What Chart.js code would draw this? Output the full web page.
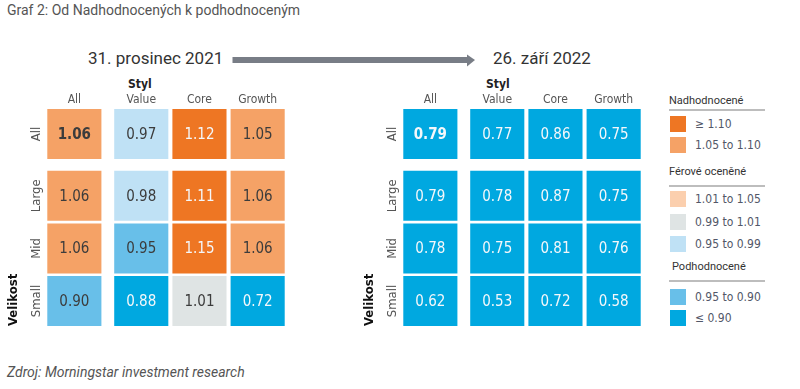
<!DOCTYPE html>
<html><head><meta charset="utf-8">
<script src="https://cdn.jsdelivr.net/npm/chart.js@4/dist/chart.umd.min.js"></script>
<style>
body{margin:0;width:800px;height:389px;background:#fff;position:relative;overflow:hidden;font-family:Roboto,"Noto Sans",sans-serif;}
.abs{position:absolute;white-space:nowrap;line-height:1;}
.date{font-size:17px;color:#333;}
.styl{font-family:"Liberation Sans Narrow","DejaVu Sans Condensed",sans-serif;font-weight:bold;font-size:12px;color:#222;}
.lh{font-size:11px;color:#333;}
.ll{position:absolute;height:2px;background:#bdbdbd;left:669px;width:96px;}
.sw{position:absolute;left:670px;width:16px;height:16px;}
.lt{position:absolute;left:695px;font-family:"Liberation Sans Narrow","DejaVu Sans Condensed",sans-serif;font-size:12px;color:#525768;line-height:16px;white-space:nowrap;}
canvas{position:absolute;}
</style></head><body>
<div class="abs" style="left:7px;top:3px;font-size:14px;color:#555;">Graf 2: Od Nadhodnocených k podhodnoceným</div>
<div class="abs date" style="left:88px;top:50px;">31. prosinec 2021</div>
<div class="abs date" style="left:493px;top:50px;">26. září 2022</div>
<svg class="abs" style="left:230px;top:52px;" width="250" height="18">
  <rect x="2.5" y="5" width="236" height="6" fill="#787d86"/>
  <polygon points="237,2.5 245,8 237,14.5" fill="#787d86"/>
</svg>
<div class="abs styl" style="left:128px;top:78px;">Styl</div>
<div class="abs styl" style="left:486px;top:78px;">Styl</div>

<canvas id="c1" width="300" height="245" style="left:0;top:88px;width:300px;height:245px;"></canvas>
<canvas id="c2" width="300" height="245" style="left:356px;top:88px;width:300px;height:245px;"></canvas>

<div class="abs lh" style="left:669px;top:95px;">Nadhodnocené</div>
<div class="ll" style="top:109px;"></div>
<div class="sw" style="top:116px;background:#EE7623"></div><div class="lt" style="top:116px;">≥ 1.10</div>
<div class="sw" style="top:137px;background:#F5A266"></div><div class="lt" style="top:137px;">1.05 to 1.10</div>
<div class="abs lh" style="left:669px;top:166px;">Férové oceněné</div>
<div class="ll" style="top:185px;"></div>
<div class="sw" style="top:191px;background:#FBCFAE"></div><div class="lt" style="top:191px;">1.01 to 1.05</div>
<div class="sw" style="top:214px;background:#DFE4E4"></div><div class="lt" style="top:214px;">0.99 to 1.01</div>
<div class="sw" style="top:236px;background:#BFE1F5"></div><div class="lt" style="top:236px;">0.95 to 0.99</div>
<div class="abs lh" style="left:672px;top:261px;">Podhodnocené</div>
<div class="ll" style="top:280px;"></div>
<div class="sw" style="top:289px;background:#68BFE9"></div><div class="lt" style="top:289px;">0.95 to 0.90</div>
<div class="sw" style="top:310px;background:#00A8E0"></div><div class="lt" style="top:310px;">≤ 0.90</div>

<div class="abs" style="left:7px;top:365px;font-size:14px;font-style:italic;color:#555;">Zdroj: Morningstar investment research</div>

<script>
// ---- data ----
const styles = ['All', 'Value', 'Core', 'Growth'];
const sizes = ['All', 'Large', 'Mid', 'Small'];
const valuesDec2021 = [
  [1.06, 0.97, 1.12, 1.05],
  [1.06, 0.98, 1.11, 1.06],
  [1.06, 0.95, 1.15, 1.06],
  [0.90, 0.88, 1.01, 0.72]
];
const valuesSep2022 = [
  [0.79, 0.77, 0.86, 0.75],
  [0.79, 0.78, 0.87, 0.75],
  [0.78, 0.75, 0.81, 0.76],
  [0.62, 0.53, 0.72, 0.58]
];

// ---- layout of category bands on the scales ----
const colPos = [0, 1.15, 2.15, 3.15];
const rowPos = [3.175, 2, 1, 0];
const ROW_HALF = 0.475;
const FONT = '"Liberation Sans Narrow","DejaVu Sans Condensed",sans-serif';

function cellColor(v) {
  if (v >= 1.10) return '#EE7623';
  if (v >= 1.05) return '#F5A266';
  if (v > 1.01) return '#FBCFAE';
  if (v >= 0.99) return '#DFE4E4';
  if (v > 0.95) return '#BFE1F5';
  if (v >= 0.90) return '#68BFE9';
  return '#00A8E0';
}
function textColor(v) {
  return (v >= 1.10 || v < 0.90) ? '#F4F7FA' : '#3c3c3c';
}

function buildCells(values) {
  const pts = [];
  sizes.forEach((s, r) => styles.forEach((st, c) => {
    pts.push({x: colPos[c], y: [rowPos[r] - ROW_HALF, rowPos[r] + ROW_HALF], v: values[r][c], bold: r === 0 && c === 0});
  }));
  return pts;
}

const cellLabels = {
  id: 'cellLabels',
  afterDatasetsDraw(chart) {
    const ctx = chart.ctx;
    const ds = chart.data.datasets[0];
    chart.getDatasetMeta(0).data.forEach((el, i) => {
      const raw = ds.data[i];
      ctx.save();
      ctx.font = (raw.bold ? 'bold ' : '') + '15px ' + FONT;
      ctx.fillStyle = textColor(raw.v);
      ctx.textAlign = 'center';
      ctx.textBaseline = 'middle';
      ctx.fillText(raw.v.toFixed(2), el.x, (el.y + el.base) / 2 + 1);
      ctx.restore();
    });
  }
};

function makeChart(id, values) {
  return new Chart(document.getElementById(id), {
    type: 'bar',
    data: {
      datasets: [{
        data: buildCells(values),
        backgroundColor: (c) => c.raw ? cellColor(c.raw.v) : '#ccc',
        borderWidth: 0,
        barPercentage: 0.93,
        categoryPercentage: 1
      }]
    },
    options: {
      responsive: false,
      animation: false,
      layout: {padding: {left: 0, right: 15, top: 0, bottom: 7}},
      plugins: {legend: {display: false}, tooltip: {enabled: false}},
      scales: {
        x: {
          type: 'linear', position: 'top', min: -0.47, max: 3.62, offset: false,
          afterBuildTicks: (s) => { s.ticks = colPos.map(v => ({value: v})); },
          afterFit: (s) => { s.height = 21; },
          ticks: {callback: (v) => styles[colPos.indexOf(v)], font: {family: FONT, size: 12}, color: '#555', padding: 2, maxRotation: 0},
          grid: {display: false, drawTicks: false}, border: {display: false}
        },
        y: {
          type: 'linear', min: -0.475, max: 3.65, offset: false,
          afterBuildTicks: (s) => { s.ticks = rowPos.map(v => ({value: v})); },
          afterFit: (s) => { s.width = 47; },
          ticks: {callback: (v) => sizes[rowPos.indexOf(v)], font: {family: FONT, size: 13}, color: '#555', minRotation: 90, maxRotation: 90, crossAlign: 'center', padding: -6},
          title: {display: true, text: 'Velikost', align: 'start', color: '#111', font: {family: FONT, size: 13, weight: 'bold'}, padding: {top: 6, bottom: 0}},
          grid: {display: false, drawTicks: false}, border: {display: false}
        }
      }
    },
    plugins: [cellLabels]
  });
}

makeChart('c1', valuesDec2021);
makeChart('c2', valuesSep2022);
</script>
</body></html>
